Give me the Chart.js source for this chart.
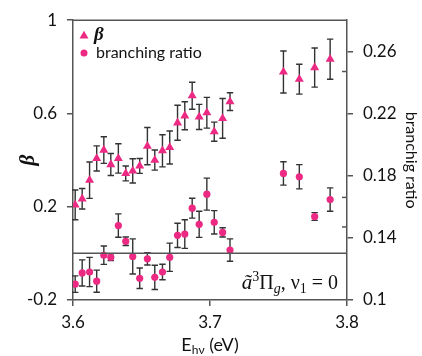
<!DOCTYPE html>
<html><head><meta charset="utf-8">
<script src="https://cdn.jsdelivr.net/npm/chart.js@4.4.1/dist/chart.umd.min.js"></script>
<style>html,body{margin:0;padding:0;background:#fff;}#wrap{width:422px;height:356px;}</style>
</head><body><div id="wrap"><canvas id="c" width="422" height="356"></canvas></div>
<script>
const energies = [3.6016, 3.6067, 3.6121, 3.6173, 3.6225, 3.6276, 3.6331, 3.6385, 3.6436, 3.6487, 3.6543, 3.6597, 3.6653, 3.6706, 3.6763, 3.6816, 3.6870, 3.6921, 3.6977, 3.7031, 3.7092, 3.7146, 3.7536, 3.7652, 3.7764, 3.7877];
const betaValues = [0.208, 0.234, 0.314, 0.407, 0.443, 0.381, 0.407, 0.343, 0.354, 0.375, 0.460, 0.400, 0.440, 0.454, 0.560, 0.590, 0.676, 0.585, 0.603, 0.522, 0.579, 0.651, 0.778, 0.747, 0.797, 0.833];
const betaErrors = [0.064, 0.044, 0.078, 0.054, 0.057, 0.047, 0.063, 0.032, 0.052, 0.032, 0.080, 0.043, 0.069, 0.071, 0.075, 0.060, 0.058, 0.054, 0.066, 0.041, 0.085, 0.038, 0.090, 0.064, 0.084, 0.086];
const branchingValues = [0.1102, 0.1174, 0.1180, 0.1121, 0.1288, 0.1275, 0.1479, 0.1378, 0.1280, 0.1140, 0.1265, 0.1146, 0.1180, 0.1275, 0.1416, 0.1424, 0.1591, 0.1487, 0.1681, 0.1500, 0.1435, 0.1321, 0.1814, 0.1793, 0.1537, 0.1646];
const branchingErrors = [0.0053, 0.0084, 0.0094, 0.0071, 0.0059, 0.0022, 0.0075, 0.0027, 0.0113, 0.0066, 0.0040, 0.0078, 0.0050, 0.0091, 0.0078, 0.0092, 0.0064, 0.0084, 0.0103, 0.0075, 0.0030, 0.0072, 0.0075, 0.0078, 0.0025, 0.0075];
const xTicks = [3.6, 3.7, 3.8];
const leftTicks = [-0.2, 0.2, 0.6, 1];
const rightTicks = [0.1, 0.14, 0.18, 0.22, 0.26];
const rightMinorTicks = [0.147, 0.166, 0.247];
const seriesNames = ['β', 'branching ratio'];
const leftTitle = 'β';
const rightTitle = 'branchig ratio';

const PINK = '#ec2a84';
const AXIS = '#555555';
const SANS = 'Lato, "Open Sans", sans-serif';
const SERIF = '"Liberation Serif", "DejaVu Serif", serif';

const errorBarPlugin = {
  id: 'errorBars',
  beforeDatasetsDraw(chart) {
    const ctx = chart.ctx;
    const xs = chart.scales.x;
    ctx.save();
    ctx.strokeStyle = '#333333';
    ctx.lineWidth = 1.4;
    const sets = [[chart.scales.y, betaValues, betaErrors], [chart.scales.y2, branchingValues, branchingErrors]];
    sets.forEach(([ys, vals, errs]) => {
      vals.forEach((v, i) => {
        const px = xs.getPixelForValue(energies[i]);
        const top = ys.getPixelForValue(v + errs[i]);
        const bot = ys.getPixelForValue(v - errs[i]);
        ctx.beginPath();
        ctx.moveTo(px, top); ctx.lineTo(px, bot);
        ctx.moveTo(px - 3.2, top); ctx.lineTo(px + 3.2, top);
        ctx.moveTo(px - 3.2, bot); ctx.lineTo(px + 3.2, bot);
        ctx.stroke();
      });
    });
    ctx.restore();
  }
};

function drawTri(ctx, x, y, r) {
  ctx.beginPath();
  for (let k = 0; k < 3; k++) {
    const a = -Math.PI / 2 + k * 2 * Math.PI / 3;
    const px = x + r * Math.cos(a), py = y + r * Math.sin(a);
    if (k === 0) ctx.moveTo(px, py); else ctx.lineTo(px, py);
  }
  ctx.closePath();
  ctx.fill();
}

const decorPlugin = {
  id: 'decor',
  afterDraw(chart) {
    const ctx = chart.ctx;
    const a = chart.chartArea;
    const ys = chart.scales.y, y2 = chart.scales.y2;
    ctx.save();
    ctx.strokeStyle = AXIS;
    ctx.lineWidth = 1.5;
    ctx.beginPath(); ctx.moveTo(a.left, a.top); ctx.lineTo(a.right, a.top); ctx.stroke();
    const zy = ys.getPixelForValue(0);
    ctx.beginPath(); ctx.moveTo(a.left, zy); ctx.lineTo(a.right, zy); ctx.stroke();
    rightMinorTicks.forEach(v => {
      const py = y2.getPixelForValue(v);
      ctx.beginPath(); ctx.moveTo(a.right, py); ctx.lineTo(a.right - 5, py); ctx.stroke();
    });
    // legend
    ctx.fillStyle = PINK;
    drawTri(ctx, 84, 36, 5.2);
    ctx.beginPath(); ctx.arc(84, 53, 3.5, 0, Math.PI * 2); ctx.fill();
    ctx.fillStyle = '#111';
    ctx.textBaseline = 'middle';
    ctx.textAlign = 'left';
    ctx.font = 'bold italic 19px ' + SERIF;
    ctx.fillText(seriesNames[0], 94, 35);
    ctx.font = '16px ' + SANS;
    ctx.fillText(seriesNames[1], 96, 53);
    // x title with subscript
    ctx.textBaseline = 'alphabetic';
    const xParts = [['E', '18px ' + SANS, 0], ['hν', '12px ' + SANS, 3], [' (eV)', '18px ' + SANS, 0]];
    let w = 0;
    xParts.forEach(p => { ctx.font = p[1]; w += ctx.measureText(p[0]).width; });
    let cx = (a.left + a.right) / 2 - w / 2;
    xParts.forEach(p => { ctx.font = p[1]; ctx.fillText(p[0], cx, 351 + p[2]); cx += ctx.measureText(p[0]).width; });
    // annotation
    const aParts = [['ã', 'italic 21px ' + SERIF, 0], ['3', '14px ' + SERIF, -8], ['Π', '20px ' + SERIF, 0], ['g', 'italic 14px ' + SERIF, 4], [', ν', '20px ' + SERIF, 0], ['1', '14px ' + SERIF, 4], [' = 0', '20px ' + SERIF, 0]];
    w = 0;
    aParts.forEach(p => { ctx.font = p[1]; w += ctx.measureText(p[0]).width; });
    cx = a.right - 9 - w;
    aParts.forEach(p => { ctx.font = p[1]; ctx.fillText(p[0], cx, 289 + p[2]); cx += ctx.measureText(p[0]).width; });
    ctx.restore();
  }
};

const fixedTicks = arr => (scale) => { scale.ticks = arr.map(v => ({ value: v })); };

new Chart(document.getElementById('c'), {
  type: 'scatter',
  data: {
    datasets: [
      {
        label: seriesNames[0],
        data: energies.map((e, i) => ({ x: e, y: betaValues[i] })),
        yAxisID: 'y',
        pointStyle: 'triangle',
        pointRadius: 5.2,
        backgroundColor: PINK,
        borderColor: PINK,
        borderWidth: 0
      },
      {
        label: seriesNames[1],
        data: energies.map((e, i) => ({ x: e, y: branchingValues[i] })),
        yAxisID: 'y2',
        pointStyle: 'circle',
        pointRadius: 3.6,
        backgroundColor: PINK,
        borderColor: PINK,
        borderWidth: 0
      }
    ]
  },
  options: {
    responsive: false,
    animation: false,
    devicePixelRatio: 1,
    layout: { padding: { top: 20, left: 0, right: 0, bottom: 0 } },
    plugins: { legend: { display: false }, tooltip: { enabled: false } },
    scales: {
      x: {
        type: 'linear', min: 3.6, max: 3.8,
        afterBuildTicks: fixedTicks(xTicks),
        afterFit: s => { s.height = 56; },
        grid: { display: true, drawOnChartArea: false, drawTicks: true, tickLength: 6, color: AXIS, lineWidth: 1.5 },
        border: { display: true, color: AXIS, width: 1.5 },
        ticks: { color: '#111', font: { family: SANS, size: 17 }, padding: 6, maxRotation: 0, callback: v => String(v) }
      },
      y: {
        type: 'linear', position: 'left', min: -0.2, max: 1,
        afterBuildTicks: fixedTicks(leftTicks),
        afterFit: s => { s.width = 73; },
        grid: { display: true, drawOnChartArea: false, drawTicks: true, tickLength: 6, color: AXIS, lineWidth: 1.5 },
        border: { display: true, color: AXIS, width: 1.5 },
        ticks: { color: '#111', font: { family: SANS, size: 17 }, padding: 10, callback: v => String(v) },
        title: { display: true, text: leftTitle, color: '#111', font: { family: SERIF, size: 21, style: 'italic', weight: 'bold' }, padding: { top: 16, bottom: 0 } }
      },
      y2: {
        type: 'linear', position: 'right', min: 0.1, max: 0.28,
        afterBuildTicks: fixedTicks(rightTicks),
        afterFit: s => { s.width = 75; },
        grid: { display: true, drawOnChartArea: false, drawTicks: true, tickLength: 6, color: AXIS, lineWidth: 1.5 },
        border: { display: true, color: AXIS, width: 1.5 },
        ticks: { color: '#111', font: { family: SANS, size: 17 }, padding: 10, callback: v => String(v) },
        title: { display: true, text: rightTitle, color: '#111', font: { family: SANS, size: 16 }, padding: { top: 1, bottom: 0 } }
      }
    }
  },
  plugins: [errorBarPlugin, decorPlugin]
});
</script>
</body></html>
